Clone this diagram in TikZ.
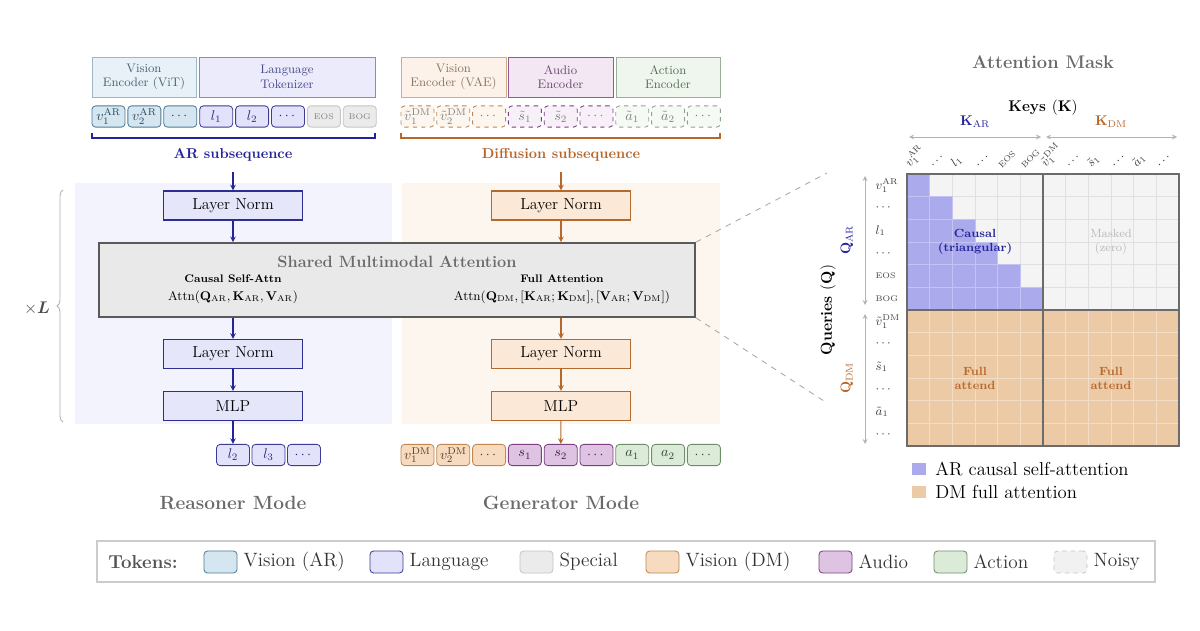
\documentclass[tikz,border=0pt]{standalone}
\usepackage{amsmath}
\usepackage{bm}
\usetikzlibrary{positioning,decorations.pathreplacing}
\definecolor{arBlue}{HTML}{23239A}
\definecolor{dmOrange}{HTML}{B8672A}
\definecolor{lnArFill}{HTML}{E6E6FA}
\definecolor{lnArDraw}{HTML}{2E2E8E}
\definecolor{lnDmFill}{HTML}{FBE8D6}
\definecolor{lnDmDraw}{HTML}{B26A2E}
\definecolor{bgAr}{HTML}{F3F3FD}
\definecolor{bgDm}{HTML}{FDF6EF}
\definecolor{visArFill}{HTML}{D5E6F1}
\definecolor{visArDraw}{HTML}{4F7C96}
\definecolor{visArText}{HTML}{27475A}
\definecolor{langFill}{HTML}{E2E2FA}
\definecolor{langDraw}{HTML}{3C3C96}
\definecolor{langText}{HTML}{2A2A78}
\definecolor{specFill}{HTML}{EBEBEB}
\definecolor{specDraw}{HTML}{C6C6C6}
\definecolor{visDmFill}{HTML}{F6DBC0}
\definecolor{visDmDraw}{HTML}{C08850}
\definecolor{visDmText}{HTML}{5A3A1A}
\definecolor{audFill}{HTML}{DEC3E2}
\definecolor{audDraw}{HTML}{7B3F82}
\definecolor{audText}{HTML}{4A1A4E}
\definecolor{actFill}{HTML}{DCEBD8}
\definecolor{actDraw}{HTML}{6E8E6A}
\definecolor{actText}{HTML}{2A4A2A}
\definecolor{smaFill}{HTML}{E9E9E9}
\definecolor{smaDraw}{HTML}{5A5A5A}
\definecolor{titleGray}{HTML}{6A6A6A}
\definecolor{maskBlue}{HTML}{AAAAEC}
\definecolor{maskBlueLine}{HTML}{C4C4F3}
\definecolor{maskTan}{HTML}{ECCAA6}
\definecolor{maskTanLine}{HTML}{F4DDC6}
\definecolor{maskGray}{HTML}{F4F4F4}
\definecolor{maskGrayLine}{HTML}{E0E0E0}
\begin{document}
\begin{tikzpicture}[x=0.025cm, y=-0.025cm, >=stealth,
    encS/.style={draw, rectangle, minimum width=#1, minimum height=1cm, inner sep=1pt, align=center, line width=0.6pt, font=\fontsize{8.8}{10.2}\selectfont},
    tokS/.style={draw, rounded corners=0.09cm, minimum width=0.825cm, minimum height=0.53cm, inner sep=0pt, line width=0.6pt, font=\fontsize{10}{11}\selectfont},
    visArT/.style={tokS, fill=visArFill, draw=visArDraw, text=visArText},
    langT/.style={tokS, fill=langFill, draw=langDraw, text=langText},
    specT/.style={tokS, fill=specFill, draw=specDraw, text=gray},
    visDmT/.style={tokS, fill=visDmFill, draw=visDmDraw, text=visDmText},
    audT/.style={tokS, fill=audFill, draw=audDraw, text=audText},
    actT/.style={tokS, fill=actFill, draw=actDraw, text=actText},
    visDmN/.style={tokS, dashed, fill=visDmFill!25, draw=visDmDraw, text=gray},
    audN/.style={tokS, dashed, fill=audFill!25, draw=audDraw, text=gray},
    actN/.style={tokS, dashed, fill=actFill!25, draw=actDraw!80, text=gray},
    noisyLg/.style={tokS, dashed, fill=specFill!70, draw=specDraw},
    lnArS/.style={draw=lnArDraw, fill=lnArFill, line width=0.9pt, minimum width=3.475cm, minimum height=0.725cm, font=\fontsize{11.3}{13}\selectfont},
    lnDmS/.style={draw=lnDmDraw, fill=lnDmFill, line width=0.9pt, minimum width=3.475cm, minimum height=0.725cm, font=\fontsize{11.3}{13}\selectfont},
    arFlowS/.style={->, arBlue, line width=0.8pt},
    dmFlowS/.style={->, dmOrange, line width=0.8pt},
    modeS/.style={text=titleGray, font=\bfseries\fontsize{13.6}{15}\selectfont},
    lblS/.style={text=black!75, inner sep=1pt, font=\fontsize{8.8}{10}\selectfont},
    keyArrS/.style={<->, black!30, line width=0.6pt},
    lgTxtS/.style={inner sep=0pt, font=\fontsize{13.7}{15}\selectfont, text=black!80},
]
\useasboundingbox (0,0) rectangle (1200,630);
\fill[white] (0,0) rectangle (1200,630);
% mode backgrounds
\fill[bgAr] (75,183) rectangle (392,424);
\fill[bgDm] (402,183) rectangle (720,424);
% encoders and input tokens (AR side)
\node[encS=2.6cm, fill=visArFill!55, draw=visArDraw!55, text=visArText!85] (encVit) at (144,77) {Vision\\Encoder (ViT)};
\node[encS=4.4cm, fill=langFill!70, draw=langDraw!60, text=langText!85] (encLang) at (287,77) {Language\\Tokenizer};
\foreach \sty/\lbl [count=\i from 0] in {visArT/$v_1^{\mathrm{AR}}$, visArT/$v_2^{\mathrm{AR}}$, visArT/$\cdots$, langT/$l_1$, langT/$l_2$, langT/$\cdots$, specT/{\fontsize{5.8}{6}\selectfont EOS}, specT/{\fontsize{5.8}{6}\selectfont BOG}}
  \node[\sty] (inAr\i) at ({108.5+35.9*\i},116.5) {\lbl};
\draw[arBlue, line width=0.8pt] (92,133) -- (92,138) -- (375,138) -- (375,133);
\node[text=arBlue, font=\bfseries\fontsize{10.2}{12}\selectfont] (arSub) at (233,155) {AR subsequence};
% encoders and input tokens (DM side)
\node[encS=2.625cm, fill=visDmFill!35, draw=visDmDraw!70, text=visDmText!70] (encVae) at (453.5,77) {Vision\\Encoder (VAE)};
\node[encS=2.625cm, fill=audFill!40, draw=audDraw!85, text=audText!80] (encAud) at (560.5,77) {Audio\\Encoder};
\node[encS=2.6cm, fill=actFill!45, draw=actDraw!70, text=actText!80] (encAct) at (668,77) {Action\\Encoder};
\foreach \sty/\lbl [count=\i from 0] in {visDmN/$\tilde{v}_1^{\mathrm{DM}}$, visDmN/$\tilde{v}_2^{\mathrm{DM}}$, visDmN/$\cdots$, audN/$\tilde{s}_1$, audN/$\tilde{s}_2$, audN/$\cdots$, actN/$\tilde{a}_1$, actN/$\tilde{a}_2$, actN/$\cdots$}
  \node[\sty] (inDm\i) at ({417.5+35.8*\i},116.5) {\lbl};
\draw[dmOrange, line width=0.8pt] (401,133) -- (401,138) -- (720,138) -- (720,133);
\node[text=dmOrange, font=\bfseries\fontsize{10.2}{12}\selectfont] (dmSub) at (561,155) {Diffusion subsequence};
% transformer block
\node[lnArS] (lnAr1) at (233,205.5) {Layer Norm};
\node[lnDmS] (lnDm1) at (561,205.5) {Layer Norm};
\node[draw=smaDraw, fill=smaFill, line width=1.1pt, minimum width=14.9cm, minimum height=1.85cm] (sma) at (397,280) {};
\node[text=titleGray, font=\bfseries\fontsize{11.6}{13}\selectfont] (smaTitle) at (397,262) {Shared Multimodal Attention};
\node[font=\bfseries\fontsize{7.8}{9}\selectfont] (causalHd) at (233,279) {Causal Self-Attn};
\node[font=\fontsize{9}{11}\selectfont] (causalEq) at (233,297) {$\mathrm{Attn}(\mathbf{Q}_{\mathrm{AR}}, \mathbf{K}_{\mathrm{AR}}, \mathbf{V}_{\mathrm{AR}})$};
\node[font=\bfseries\fontsize{7.8}{9}\selectfont] (fullHd) at (562,279) {Full Attention};
\node[font=\fontsize{9}{11}\selectfont] (fullEq) at (562,297) {$\mathrm{Attn}(\mathbf{Q}_{\mathrm{DM}}, [\mathbf{K}_{\mathrm{AR}}; \mathbf{K}_{\mathrm{DM}}], [\mathbf{V}_{\mathrm{AR}}; \mathbf{V}_{\mathrm{DM}}])$};
\node[lnArS] (lnAr2) at (233,354) {Layer Norm};
\node[lnDmS] (lnDm2) at (561,354) {Layer Norm};
\node[lnArS] (mlpAr) at (233,406) {MLP};
\node[lnDmS] (mlpDm) at (561,406) {MLP};
% outputs
\foreach \lbl [count=\i from 0] in {$l_2$, $l_3$, $\cdots$}
  \node[langT] (outAr\i) at ({233+35.5*\i},455) {\lbl};
\foreach \sty/\lbl [count=\i from 0] in {visDmT/$v_1^{\mathrm{DM}}$, visDmT/$v_2^{\mathrm{DM}}$, visDmT/$\cdots$, audT/$s_1$, audT/$s_2$, audT/$\cdots$, actT/$a_1$, actT/$a_2$, actT/$\cdots$}
  \node[\sty] (outDm\i) at ({417.5+35.8*\i},455) {\lbl};
% flow arrows
\draw[arFlowS, shorten <=0.15cm] (arSub) -- (lnAr1);
\draw[arFlowS] (lnAr1) -- (lnAr1 |- sma.north);
\draw[arFlowS] (lnAr2 |- sma.south) -- (lnAr2);
\draw[arFlowS] (lnAr2) -- (mlpAr);
\draw[arFlowS] (mlpAr) -- (outAr0);
\draw[dmFlowS, shorten <=0.15cm] (dmSub) -- (lnDm1);
\draw[dmFlowS] (lnDm1) -- (lnDm1 |- sma.north);
\draw[dmFlowS] (lnDm2 |- sma.south) -- (lnDm2);
\draw[dmFlowS] (lnDm2) -- (mlpDm);
\draw[dmFlowS] (mlpDm) -- (outDm4);
\node[modeS] (reasMode) at (233,503) {Reasoner Mode};
\node[modeS] (genMode) at (561,503) {Generator Mode};
% repeat brace
\draw[black!30, line width=0.6pt, decorate, decoration={brace, amplitude=0.15cm}] (63,422) -- (63,190);
\node[font=\fontsize{12}{14}\selectfont, text=black!70] (repL) at (37,308) {$\times\bm{L}$};
% zoom lines to mask
\coordinate (maskTopTip) at (827,173);
\coordinate (maskBotTip) at (827,403);
\draw[black!35, dash pattern=on 4pt off 4pt, line width=0.6pt] (sma.north east) -- (maskTopTip);
\draw[black!35, dash pattern=on 4pt off 4pt, line width=0.6pt] (sma.south east) -- (maskBotTip);
% attention mask
\def\cs{22.667}
\node[text=titleGray, font=\bfseries\fontsize{13}{15}\selectfont] (maskTitle) at (1043,62) {Attention Mask};
\node[font=\bfseries\fontsize{11}{13}\selectfont] (keysLbl) at (1043,108) {Keys $(\mathbf{K})$};
\node[text=arBlue, font=\fontsize{10}{12}\selectfont] (kArLbl) at (975,122) {$\mathbf{K}_{\mathrm{AR}}$};
\node[text=dmOrange, font=\fontsize{10}{12}\selectfont] (kDmLbl) at (1111,122) {$\mathbf{K}_{\mathrm{DM}}$};
\draw[keyArrS] (909,137) -- (1041,137);
\draw[keyArrS] (1046,137) -- (1177,137);
\fill[maskGray] (907,174) rectangle (1179,310);
\foreach \k in {1,...,11} \draw[maskGrayLine, line width=0.4pt] ({907+\k*\cs},174) -- ({907+\k*\cs},310);
\foreach \k in {1,...,5} \draw[maskGrayLine, line width=0.4pt] (907,{174+\k*\cs}) -- (1179,{174+\k*\cs});
\foreach \r in {0,...,5}
  \foreach \c in {0,...,\r}
    \filldraw[fill=maskBlue, draw=maskBlueLine, line width=0.4pt] ({907+\c*\cs},{174+\r*\cs}) rectangle +(\cs,\cs);
\fill[maskTan] (907,310) rectangle (1179,446);
\foreach \k in {1,...,11} \draw[maskTanLine, line width=0.4pt] ({907+\k*\cs},310) -- ({907+\k*\cs},446);
\foreach \k in {7,...,11} \draw[maskTanLine, line width=0.4pt] (907,{174+\k*\cs}) -- (1179,{174+\k*\cs});
\draw[black!58, line width=1.3pt] (907,174) rectangle (1179,446);
\draw[black!58, line width=1.3pt] (1043,174) -- (1043,446);
\draw[black!58, line width=1.3pt] (907,310) -- (1179,310);
\node[text=arBlue, align=center, font=\bfseries\fontsize{8.4}{10}\selectfont] (causalTxt) at (975,242) {Causal\\(triangular)};
\node[text=black!28, align=center, font=\fontsize{8.4}{10}\selectfont] (maskedTxt) at (1111,242) {Masked\\(zero)};
\node[text=dmOrange, align=center, font=\bfseries\fontsize{8.4}{10}\selectfont] (fullTxtA) at (975,378) {Full\\attend};
\node[text=dmOrange, align=center, font=\bfseries\fontsize{8.4}{10}\selectfont] (fullTxtB) at (1111,378) {Full\\attend};
\foreach \lbl [count=\i from 0] in {$v_1^{\mathrm{AR}}$, $\cdots$, $l_1$, $\cdots$, {\fontsize{5.8}{6}\selectfont EOS}, {\fontsize{5.8}{6}\selectfont BOG}, $\tilde{v}_1^{\mathrm{DM}}$, $\cdots$, $\tilde{s}_1$, $\cdots$, $\tilde{a}_1$, $\cdots$}
  \node[lblS, rotate=45, anchor=south west] (kTok\i) at ({907+(\i+0.5)*\cs-7},171) {\lbl};
\foreach \lbl [count=\i from 0] in {$v_1^{\mathrm{AR}}$, $\cdots$, $l_1$, $\cdots$, {\fontsize{5.8}{6}\selectfont EOS}, {\fontsize{5.8}{6}\selectfont BOG}, $\tilde{v}_1^{\mathrm{DM}}$, $\cdots$, $\tilde{s}_1$, $\cdots$, $\tilde{a}_1$, $\cdots$}
  \node[lblS, anchor=west] (qTok\i) at (874,{174+(\i+0.5)*\cs}) {\lbl};
\draw[keyArrS] (865,176) -- (865,305);
\draw[keyArrS] (865,314) -- (865,444);
\node[text=arBlue, rotate=90, font=\fontsize{10}{12}\selectfont] (qArLbl) at (847,240) {$\mathbf{Q}_{\mathrm{AR}}$};
\node[text=dmOrange, rotate=90, font=\fontsize{10}{12}\selectfont] (qDmLbl) at (847,378) {$\mathbf{Q}_{\mathrm{DM}}$};
\node[rotate=90, font=\bfseries\fontsize{11.3}{13}\selectfont] (queriesLbl) at (828,310) {Queries $(\mathbf{Q})$};
% mask legend
\node[fill=maskBlue, minimum width=0.35cm, minimum height=0.3cm, inner sep=0pt] (lgAr) at (919,469) {};
\node[right=0.22cm of lgAr, inner sep=0pt, font=\fontsize{13.3}{15}\selectfont] (lgArTx) {AR causal self-attention};
\node[fill=maskTan, minimum width=0.35cm, minimum height=0.3cm, inner sep=0pt] (lgDm) at (919,492) {};
\node[right=0.22cm of lgDm, inner sep=0pt, font=\fontsize{13.3}{15}\selectfont] (lgDmTx) {DM full attention};
% token legend
\draw[black!20, fill=white, line width=0.9pt] (97,541) rectangle (1155,582);
\node[anchor=west, inner sep=0pt, text=black!68, font=\bfseries\fontsize{13.3}{15}\selectfont] (lgHead) at (108,562) {Tokens:};
\foreach \sty/\lbl/\xx [count=\i] in {visArT/Vision (AR)/220.5, langT/Language/386.5, specT/Special/536.5, visDmT/Vision (DM)/662.5, audT/Audio/835.5, actT/Action/950.5, noisyLg/Noisy/1070.5}
{
  \node[\sty, minimum height=0.55cm] (lgSw\i) at (\xx,562) {};
  \node[lgTxtS, right=0.15cm of lgSw\i] (lgTx\i) {\lbl};
}
\end{tikzpicture}
\end{document}
